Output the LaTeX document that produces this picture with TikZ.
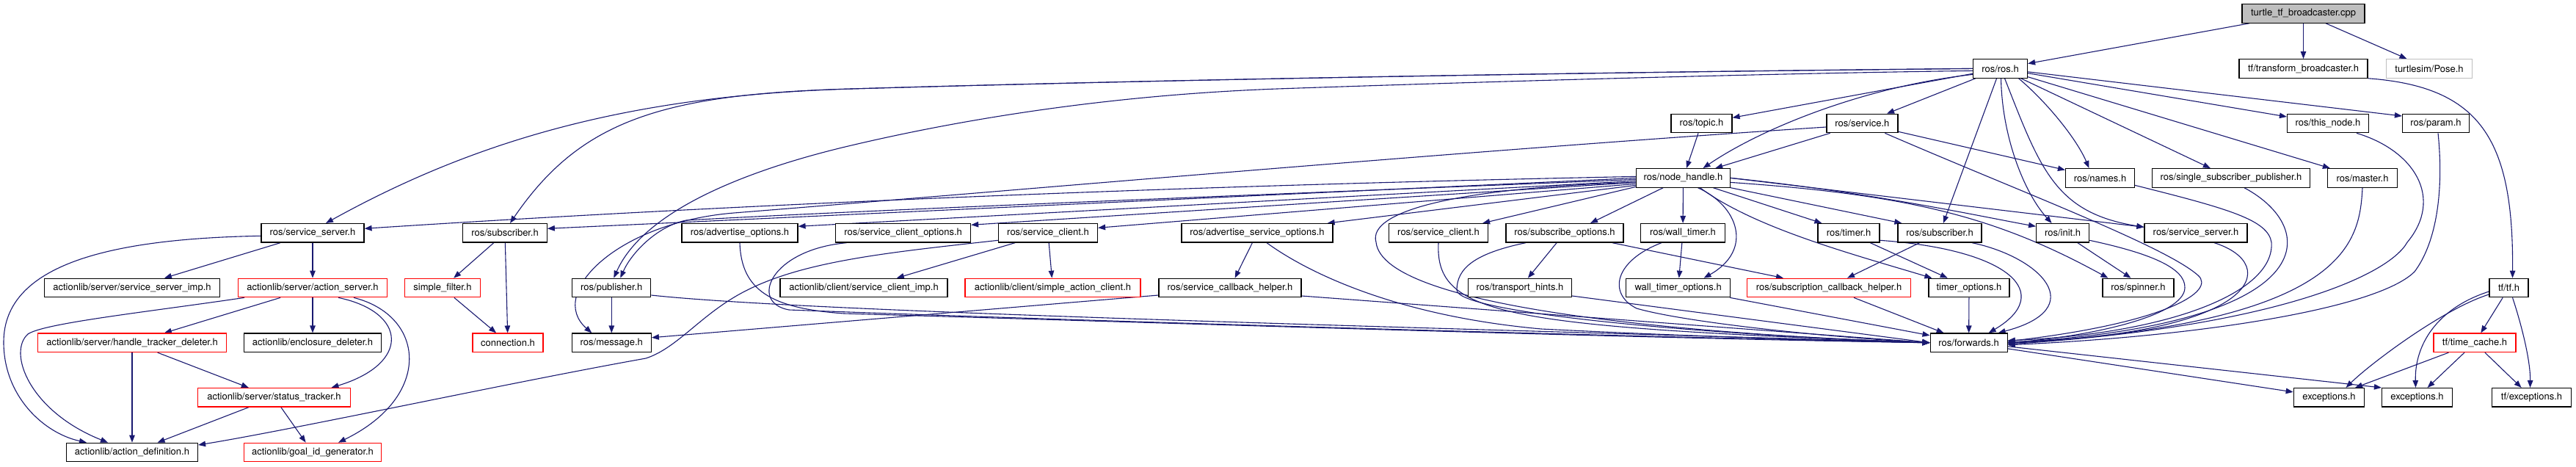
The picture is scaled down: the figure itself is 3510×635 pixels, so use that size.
\documentclass[tikz,border=0pt]{standalone}
\usepackage{fontspec}
\setmainfont{TeX Gyre Heros}
\usetikzlibrary{arrows.meta}
\definecolor{edgec}{HTML}{191970}
\definecolor{greyfill}{HTML}{BFBFBF}
\definecolor{lightbd}{HTML}{BFBFBF}
\pgfdeclarelayer{bg}
\pgfsetlayers{bg,main}
\tikzset{
  box/.style={draw=black, line width=1.2pt, fill=white, minimum height=25.5pt, inner sep=0pt, font=\fontsize{13}{15}\selectfont},
  rbox/.style={box, draw=red},
  gbox/.style={box, draw=lightbd},
  tbox/.style={box, fill=greyfill},
  edg/.style={draw=edgec, line width=1.1pt, -{Triangle[length=10pt,width=7.5pt]}},
}
\begin{document}
\begin{tikzpicture}[x=1pt,y=-1pt]
\useasboundingbox (0,0) rectangle (3510,635);
% row 0-3
\node[tbox, minimum width=167pt] (turtle) at (3138.5,18.4) {turtle\_tf\_broadcaster.cpp};
\node[box, minimum width=175pt] (tfb) at (3138.5,93.4) {tf/transform\_broadcaster.h};
\node[gbox, minimum width=117.5pt] (pose) at (3310,93.4) {turtlesim/Pose.h};
\node[box, minimum width=74pt] (ros) at (2725.5,93.4) {ros/ros.h};
\node[box, minimum width=83pt] (topic) at (2318.5,168) {ros/topic.h};
\node[box, minimum width=97pt] (service) at (2537.4,168) {ros/service.h};
\node[box, minimum width=111pt] (thisnode) at (3172,168) {ros/this\_node.h};
\node[box, minimum width=91pt] (param) at (3319,168) {ros/param.h};
\node[box, minimum width=128pt] (nh) at (2293.5,242.4) {ros/node\_handle.h};
\node[box, minimum width=94pt] (names) at (2861.5,242.4) {ros/names.h};
\node[box, minimum width=215pt] (ssp) at (3040,242.4) {ros/single\_subscriber\_publisher.h};
\node[box, minimum width=95pt] (master) at (3219,242.4) {ros/master.h};
% row 4
\node[box, minimum width=140pt] (ssL) at (426,317.3) {ros/service\_server.h};
\node[box, minimum width=114.5pt] (subL) at (688,317.3) {ros/subscriber.h};
\node[box, minimum width=158pt] (advo) at (1008,317.3) {ros/advertise\_options.h};
\node[box, minimum width=184pt] (sco) at (1230.6,317.3) {ros/service\_client\_options.h};
\node[box, minimum width=135pt] (scA) at (1428,317.3) {ros/service\_client.h};
\node[box, minimum width=206pt] (aso) at (1713,317.3) {ros/advertise\_service\_options.h};
\node[box, minimum width=135pt] (scB) at (1960,317.3) {ros/service\_client.h};
\node[box, minimum width=160pt] (subo) at (2132,317.3) {ros/subscribe\_options.h};
\node[box, minimum width=115pt] (wt) at (2293,317.3) {ros/wall\_timer.h};
\node[box, minimum width=84pt] (timer) at (2519,317.3) {ros/timer.h};
\node[box, minimum width=114pt] (subR) at (2643,317.3) {ros/subscriber.h};
\node[box, minimum width=72pt] (init) at (2810.6,317.3) {ros/init.h};
\node[box, minimum width=140pt] (ssR) at (2992,317.3) {ros/service\_server.h};
% row 5
\node[box, minimum width=239pt] (ssimp) at (180,392) {actionlib/server/service\_server\_imp.h};
\node[rbox, minimum width=203pt] (as) at (426,392) {actionlib/server/action\_server.h};
\node[rbox, minimum width=103pt] (sf) at (603,392) {simple\_filter.h};
\node[box, minimum width=107pt] (pub) at (833.3,392) {ros/publisher.h};
\node[box, minimum width=228pt] (scimp) at (1177,392) {actionlib/client/service\_client\_imp.h};
\node[rbox, minimum width=239pt] (sac) at (1434.5,392) {actionlib/client/simple\_action\_client.h};
\node[box, minimum width=194pt] (sch) at (1676,392) {ros/service\_callback\_helper.h};
\node[box, minimum width=141pt] (th) at (2071,392) {ros/transport\_hints.h};
\node[box, minimum width=142pt] (wto) at (2286.6,392) {wall\_timer\_options.h};
\node[rbox, minimum width=223pt] (sbch) at (2492,392) {ros/subscription\_callback\_helper.h};
\node[box, minimum width=110pt] (tmo) at (2683,392) {timer\_options.h};
\node[box, minimum width=97pt] (spin) at (2913.5,392) {ros/spinner.h};
\node[box, minimum width=53pt] (tf) at (3418.5,392) {tf/tf.h};
% row 6
\node[rbox, minimum width=257pt] (htd) at (180,466.8) {actionlib/server/handle\_tracker\_deleter.h};
\node[box, minimum width=187pt] (ed) at (426,466.8) {actionlib/enclosure\_deleter.h};
\node[rbox, minimum width=96pt] (conn) at (692,466.8) {connection.h};
\node[box, minimum width=108pt] (msg) at (833.3,466.8) {ros/message.h};
\node[box, minimum width=105pt] (fwd) at (2682.6,466.8) {ros/forwards.h};
\node[rbox, minimum width=112pt] (tc) at (3372,466.8) {tf/time\_cache.h};
% row 7
\node[rbox, minimum width=208pt] (st) at (373.5,541.3) {actionlib/server/status\_tracker.h};
\node[box, minimum width=96.5pt] (exa) at (3173.5,541.3) {exceptions.h};
\node[box, minimum width=96pt] (exb) at (3293.5,541.3) {exceptions.h};
\node[box, minimum width=108.5pt] (tfe) at (3449.5,541.3) {tf/exceptions.h};
% row 8
\node[box, minimum width=179pt] (ad) at (180,616) {actionlib/action\_definition.h};
\node[rbox, minimum width=187pt] (gid) at (426,616) {actionlib/goal\_id\_generator.h};

\begin{pgfonlayer}{bg}
% top
\draw[edg] (turtle) -- (ros);
\draw[edg] (turtle) -- (tfb);
\draw[edg] (turtle) -- (pose);
\draw[edg] (tfb.south east) .. controls (3380,118) and (3425,190) .. ([xshift=5pt]tf.north);
\draw[edg] ([yshift=-9pt]tf.west) .. controls (3330,420) and (3230,495) .. ([xshift=23pt]exa.north);
\draw[edg] ([yshift=-5pt]tf.west) .. controls (3320,420) and (3290,470) .. ([xshift=-2pt]exb.north);
\draw[edg] (tf) -- (tc);
\draw[edg] ([xshift=5pt]tf.south) .. controls (3435,440) and (3448,490) .. ([xshift=-2pt]tfe.north);
\draw[edg] (tc) -- (exa);
\draw[edg] (tc) -- (exb);
\draw[edg] (tc) -- (tfe);
\draw[edg] (fwd) -- (exa);
\draw[edg] ([yshift=-5pt]fwd.east) -- (exb.north west);
% ros.h
\draw[edg] (ros) -- (service);
\draw[edg] ([xshift=25pt]ros.south) .. controls (2790,140) and (2830,190) .. ([xshift=-15pt]names.north);
\draw[edg] (ros) -- (subR);
\draw[edg] ([xshift=1pt]ros.south) .. controls (2728,190) and (2760,265) .. ([xshift=-15pt]init.north);
\draw[edg] ([xshift=6pt]ros.south) .. controls (2780,230) and (2800,290) .. ([yshift=8pt]ssR.west);
\draw[edg] (ros) -- (ssp);
\draw[edg] (ros) -- (master);
\draw[edg] (ros) -- ([yshift=9pt]thisnode.west);
\draw[edg] (ros) -- ([yshift=10pt]param.west);
\draw[edg] (ros) -- (topic);
\draw[edg] ([yshift=-8pt]ros.west) .. controls (2540,118) and (2400,175) .. ([xshift=27pt]nh.north);
\draw[edg] (ros.west) .. controls (2200,98) and (1600,108) .. (1160,121) .. controls (860,130) and (650,190) .. ([xshift=18pt]ssL.north);
\draw[edg] (ros.west) .. controls (2200,98) and (1600,108) .. (1160,121) .. controls (900,128) and (790,165) .. ([xshift=7pt]subL.north);
\draw[edg] ([yshift=-3pt]ros.west) .. controls (2400,100) and (2000,112) .. (1740,121) .. controls (1500,130) and (1300,165) .. (1160,198) .. controls (1040,226) and (880,280) .. ([xshift=3pt]pub.north);
% service.h
\draw[edg] (service) -- (nh);
\draw[edg] (service) -- (names);
\draw[edg] ([xshift=31pt]service.south) .. controls (2750,260) and (2950,335) .. (2995,375) .. controls (3020,397) and (2950,440) .. ([yshift=2pt]fwd.east);
\draw[edg] ([yshift=-5pt]service.west) .. controls (2000,205) and (1400,258) .. (1000,290) .. controls (840,303) and (745,400) .. ([xshift=-27pt]msg.north);
\draw[edg] (topic) -- (nh);
% node_handle.h
\draw[edg] ([yshift=2pt]nh.west) .. controls (1500,255) and (900,285) .. ([yshift=6pt]ssL.east);
\draw[edg] (nh.west) -- ([yshift=6pt]subL.east);
\draw[edg] ([yshift=-2pt]nh.west) .. controls (1800,262) and (1200,285) .. (935,300) .. controls (895,308) and (860,345) .. ([xshift=12pt]pub.north);
\draw[edg] ([yshift=-4pt]nh.west) -- ([yshift=9pt]advo.east);
\draw[edg] ([yshift=-6pt]nh.west) -- ([yshift=11pt]sco.east);
\draw[edg] ([yshift=-8pt]nh.west) -- ([yshift=7pt]scA.east);
\draw[edg] ([yshift=-10pt]nh.west) -- ([xshift=-8pt]aso.north east);
\draw[edg] ([yshift=-12pt]nh.west) -- ([xshift=-8pt]scB.north east);
\draw[edg] (nh) -- ([xshift=35pt]subo.north);
\draw[edg] (nh) -- (wt);
\draw[edg] ([xshift=20pt]nh.south) .. controls (2368,280) and (2390,340) .. ([xshift=35pt]wto.north);
\draw[edg] ([yshift=-6pt]nh.west) .. controls (2000,255) and (1862,285) .. (1875,330) .. controls (1885,420) and (2300,455) .. (fwd.west);
\draw[edg] (nh) -- ([xshift=6pt]timer.north west);
\draw[edg] (nh) -- ([xshift=6pt]subR.north west);
\draw[edg] ([xshift=23pt]nh.south) .. controls (2390,310) and (2520,345) .. ([xshift=5pt]tmo.north west);
\draw[edg] (nh.east) .. controls (2550,262) and (2700,295) .. ([yshift=9pt]init.west);
\draw[edg] (nh.east) -- ([yshift=8pt]ssR.west);
\draw[edg] ([yshift=-6pt]nh.east) .. controls (2600,265) and (2720,295) .. ([xshift=8pt]spin.north west);
% middle
\draw[edg] (subo) -- (th);
\draw[edg] (subo) -- ([xshift=-62pt]sbch.north);
\draw[edg] ([xshift=-53pt]subo.south) .. controls (2010,345) and (1985,365) .. (1985,395) .. controls (1985,425) and (2300,455) .. (fwd.west);
\draw[edg] (aso) -- (sch);
\draw[edg] ([xshift=13pt]aso.south) .. controls (1780,370) and (1900,430) .. (2100,448) .. controls (2300,458) and (2500,464) .. (fwd.west);
\draw[edg] ([yshift=-10pt]sch.west) -- ([yshift=7pt]msg.east);
\draw[edg] ([yshift=-11pt]sch.east) -- (fwd.west);
\draw[edg] (scB.south) .. controls (1955,430) and (2050,445) .. (fwd.west);
\draw[edg] ([yshift=-11pt]th.east) -- (fwd.west);
\draw[edg] ([xshift=-29pt]wt.south) .. controls (2200,355) and (2190,400) .. (2230,420) .. controls (2300,440) and (2500,460) .. (fwd.west);
\draw[edg] (wt) -- (wto);
\draw[edg] (wto) -- (fwd);
\draw[edg] (sbch) -- (fwd);
\draw[edg] (tmo) -- (fwd);
\draw[edg] (timer) -- (tmo);
\draw[edg] ([yshift=-10pt]timer.east) .. controls (2740,340) and (2800,400) .. ([xshift=27pt]fwd.north);
\draw[edg] (subR) -- ([xshift=25pt]sbch.north);
\draw[edg] ([xshift=44pt]subR.south) .. controls (2780,350) and (2850,420) .. ([xshift=40pt]fwd.north);
\draw[edg] (init) -- ([xshift=-10pt]spin.north);
\draw[edg] ([yshift=-10pt]init.east) .. controls (2930,345) and (2978,365) .. (2977,392) .. controls (2976,430) and (2850,458) .. (fwd.east);
\draw[edg] ([xshift=25pt]ssR.south) .. controls (3110,360) and (3080,455) .. ([yshift=1pt]fwd.east);
\draw[edg] ([xshift=18pt]ssp.south) .. controls (3160,310) and (3170,440) .. (fwd.east);
\draw[edg] (master.south) .. controls (3215,330) and (3200,440) .. ([yshift=-1pt]fwd.east);
\draw[edg] ([xshift=39pt]thisnode.south) .. controls (3290,205) and (3330,270) .. (3280,330) .. controls (3255,375) and (3100,445) .. ([yshift=-2pt]fwd.east);
\draw[edg] ([xshift=3pt]param.south) .. controls (3330,260) and (3320,330) .. (3290,370) .. controls (3240,420) and (3000,458) .. ([yshift=-3pt]fwd.east);
\draw[edg] ([yshift=-10pt]names.east) .. controls (3040,285) and (3090,300) .. (3095,330) .. controls (3100,400) and (2950,455) .. ([yshift=3pt]fwd.east);
% left cluster
\draw[edg] (ssL) -- (ssimp);
\draw[edg] (ssL) -- (as);
\draw[edg] ([yshift=-4pt]ssL.west) .. controls (150,325) and (5,360) .. (5,466) .. controls (5,540) and (60,590) .. ([xshift=-62pt]ad.north);
\draw[edg] ([xshift=-93pt]as.south) .. controls (200,425) and (60,440) .. (38,455) .. controls (10,480) and (40,560) .. ([xshift=-33pt]ad.north);
\draw[edg] (as) -- (htd);
\draw[edg] (as) -- (ed);
\draw[edg] ([xshift=35pt]as.south) .. controls (555,425) and (560,495) .. ([xshift=78pt]st.north);
\draw[edg] ([xshift=56pt]as.south) .. controls (580,430) and (590,540) .. ([xshift=35pt]gid.north);
\draw[edg] (htd) -- (ad);
\draw[edg] (htd) -- (st);
\draw[edg] (st) -- (ad);
\draw[edg] (st) -- (gid);
\draw[edg] ([yshift=-10pt]scA.west) .. controls (1200,345) and (1080,357) .. (1000,405) .. controls (950,435) and (920,475) .. (880,488) .. controls (700,520) and (400,585) .. ([yshift=10pt]ad.east);
\draw[edg] (scA) -- (scimp);
\draw[edg] (scA) -- (sac);
\draw[edg] (subL) -- (sf);
\draw[edg] (subL) -- (conn);
\draw[edg] (sf) -- (conn);
\draw[edg] (pub) -- (msg);
\draw[edg] ([yshift=-10pt]pub.east) .. controls (1100,425) and (1900,445) .. (fwd.west);
\draw[edg] (advo.south) .. controls (1010,395) and (1050,420) .. (1150,427) .. controls (1600,440) and (2200,460) .. (fwd.west);
\draw[edg] ([xshift=-77pt]sco.south) .. controls (1050,340) and (1020,412) .. (1075,422) .. controls (1500,438) and (2200,458) .. (fwd.west);
\end{pgfonlayer}
\end{tikzpicture}
\end{document}
